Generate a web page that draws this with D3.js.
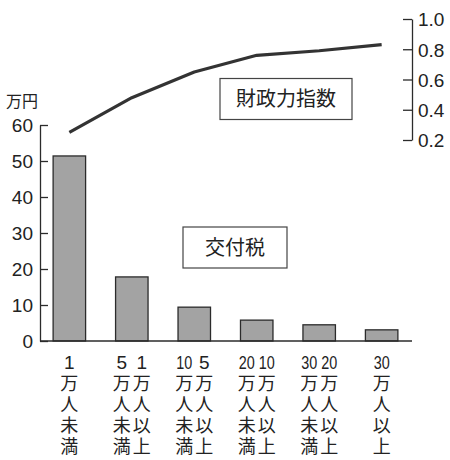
<!DOCTYPE html>
<html>
<head>
<meta charset="utf-8">
<script src="https://cdn.jsdelivr.net/npm/d3@7"></script>
<style>
  html, body { margin: 0; padding: 0; background: #fff; }
  svg text { font-family: "Liberation Sans", Arial, sans-serif; fill: #222; }
  .jp { font-family: "Noto Sans CJK JP", "Noto Sans", sans-serif; }
</style>
</head>
<body>
<svg id="chart" width="450" height="460"></svg>
<script>
// categories: each entry lists its label columns, right column first (vertical text)
const categories = ["lt1", "1to5", "5to10", "10to20", "20to30", "ge30"];
const labelColumns = [
  [["1", "万人未満"]],
  [["1", "万人以上"], ["5", "万人未満"]],
  [["5", "万人以上"], ["10", "万人未満"]],
  [["10", "万人以上"], ["20", "万人未満"]],
  [["20", "万人以上"], ["30", "万人未満"]],
  [["30", "万人以上"]]
];
const grantValues = [51.4, 17.8, 9.4, 5.8, 4.5, 3.1];      // 交付税 (万円)
const fiscalIndex = [0.25, 0.48, 0.65, 0.76, 0.79, 0.83];  // 財政力指数
const leftTicks = [0, 10, 20, 30, 40, 50, 60];
const rightTicks = [0.2, 0.4, 0.6, 0.8, 1.0];

(function () {
  const svg = d3.select("#chart");
  const ink = "#2b2b2b";

  const x = d3.scaleBand().domain(categories).range([40, 411]).paddingInner(0.48).paddingOuter(0.21);
  const yL = d3.scaleLinear().domain([0, 60]).range([341, 125]);
  const yR = d3.scaleLinear().domain([0.2, 1.0]).range([140, 19]);

  // bars
  svg.selectAll(".bar")
    .data(grantValues)
    .join("rect")
    .attr("class", "bar")
    .attr("x", (d, i) => x(categories[i]))
    .attr("y", d => yL(d))
    .attr("width", x.bandwidth())
    .attr("height", d => yL(0) - yL(d))
    .attr("fill", "#a3a3a3")
    .attr("stroke", ink)
    .attr("stroke-width", 1.3);

  // left axis (ticks pointing inward)
  const left = svg.append("g")
    .attr("transform", "translate(40,0)")
    .call(d3.axisLeft(yL).tickValues(leftTicks).tickSizeInner(-8).tickSizeOuter(0).tickPadding(7).tickFormat(d3.format("d")));
  left.select(".domain").attr("stroke", ink).attr("stroke-width", 1.3);
  left.selectAll(".tick line").attr("stroke", ink).attr("stroke-width", 1.3);
  left.selectAll(".tick text").attr("font-size", 19).attr("fill", "#222").attr("dy", "0.36em")
    .style("font-family", "'Liberation Sans', Arial, sans-serif");

  // baseline
  svg.append("line")
    .attr("x1", 40).attr("x2", 412)
    .attr("y1", yL(0)).attr("y2", yL(0))
    .attr("stroke", ink).attr("stroke-width", 1.3);

  // right axis (ticks pointing left)
  const right = svg.append("g")
    .attr("transform", "translate(412,0)")
    .call(d3.axisRight(yR).tickValues(rightTicks).tickSizeInner(-9).tickSizeOuter(0).tickPadding(6).tickFormat(d3.format(".1f")));
  right.select(".domain").attr("stroke", ink).attr("stroke-width", 1.3);
  right.selectAll(".tick line").attr("stroke", ink).attr("stroke-width", 1.3);
  right.selectAll(".tick text").attr("font-size", 19).attr("fill", "#222").attr("dy", "0.36em")
    .style("font-family", "'Liberation Sans', Arial, sans-serif");

  // fiscal index line
  const line = d3.line()
    .x((d, i) => x(categories[i]) + x.bandwidth() / 2)
    .y(d => yR(d));
  svg.append("path")
    .datum(fiscalIndex)
    .attr("d", line)
    .attr("fill", "none")
    .attr("stroke", "#333")
    .attr("stroke-width", 3.2)
    .attr("stroke-linejoin", "round");

  // unit label
  svg.append("text").attr("class", "jp")
    .attr("x", 22).attr("y", 107)
    .attr("text-anchor", "middle").attr("font-size", 16)
    .text("万円");

  // boxed series labels
  function boxLabel(x0, y0, w, h, label) {
    svg.append("rect")
      .attr("x", x0).attr("y", y0).attr("width", w).attr("height", h)
      .attr("fill", "#fff").attr("stroke", "#444").attr("stroke-width", 1.2);
    svg.append("text").attr("class", "jp")
      .attr("x", x0 + w / 2).attr("y", y0 + h / 2 + 7)
      .attr("text-anchor", "middle").attr("font-size", 20)
      .text(label);
  }
  boxLabel(220, 78.5, 132, 41, "財政力指数");
  boxLabel(183, 227, 104, 41, "交付税");

  // vertical category labels, one character per row
  const rowY = [369, 390, 411, 432, 453];
  labelColumns.forEach((cols, i) => {
    const cx = x(categories[i]) + x.bandwidth() / 2;
    const offsets = cols.length === 1 ? [0] : [10, -10];
    cols.forEach((col, j) => {
      const g = svg.append("g").attr("transform", `translate(${cx + offsets[j]},0)`);
      g.append("text")
        .attr("x", 0).attr("y", rowY[0])
        .attr("text-anchor", "middle").attr("font-size", 19)
        .attr("textLength", col[0].length > 1 ? 16 : null)
        .attr("lengthAdjust", "spacingAndGlyphs")
        .text(col[0]);
      Array.from(col[1]).forEach((ch, k) => {
        g.append("text").attr("class", "jp")
          .attr("x", 0).attr("y", rowY[k + 1])
          .attr("text-anchor", "middle").attr("font-size", 18)
          .text(ch);
      });
    });
  });
})();
</script>
</body>
</html>
